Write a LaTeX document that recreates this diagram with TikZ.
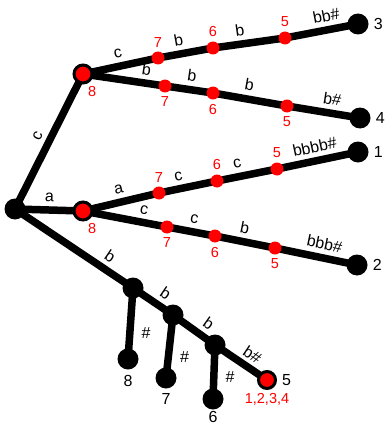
\documentclass[tikz,border=0pt]{standalone}
\usepackage{fontspec}
\setmainfont{Liberation Sans}
\usetikzlibrary{backgrounds}
\begin{document}
\begin{tikzpicture}[x=1pt,y=-1pt,
  edge/.style={line width=7.5pt,black},
  leaf/.style={circle,fill=black,minimum size=21pt,inner sep=0pt},
  rdot/.style={circle,fill=red,minimum size=13pt,inner sep=0pt},
  hub/.style={circle,fill=red,draw=black,line width=3pt,minimum size=18pt,inner sep=0pt},
  el/.style={font=\fontsize{16}{16}\selectfont,sloped,above,inner sep=4.5pt},
  hl/.style={font=\fontsize{16}{16}\selectfont,right,inner sep=0pt,xshift=8pt},
  rl/.style={font=\fontsize{14.5}{14.5}\selectfont,text=red,inner sep=1pt,label distance=3pt},
  bl/.style={font=\fontsize{16}{16}\selectfont,text=black,inner sep=2pt,label distance=3pt}]
\useasboundingbox (0,0) rectangle (387,428);
% hubs
\node[leaf] (r) at (15,209) {};
\node[hub,label={[rl,label distance=1pt]-70:8}] (A) at (83,74) {};
\node[hub,label={[rl,label distance=1pt]-70:8}] (B) at (83,211) {};
% branch to 3
\node[rdot,label={[rl]above:7}] (a7) at (158,58) {};
\node[rdot,label={[rl]above:6}] (a6) at (213,48) {};
\node[rdot,label={[rl]above:5}] (a5) at (285,38) {};
\node[leaf,label={[bl]right:3}] (L3) at (358,24) {};
% branch to 4
\node[rdot,label={[rl]below:7}] (b7) at (165,86) {};
\node[rdot,label={[rl]below:6}] (b6) at (213,93) {};
\node[rdot,label={[rl]below:5}] (b5) at (287,106) {};
\node[leaf,label={[bl]right:4}] (L4) at (360,118) {};
% branch to 1
\node[rdot,label={[rl]above:7}] (c7) at (159,193) {};
\node[rdot,label={[rl]above:6}] (c6) at (217,181) {};
\node[rdot,label={[rl]above:5}] (c5) at (277,169) {};
\node[leaf,label={[bl]right:1}] (L1) at (358,152) {};
% branch to 2
\node[rdot,label={[rl]below:7}] (e7) at (167,227) {};
\node[rdot,label={[rl]below:6}] (e6) at (215,236) {};
\node[rdot,label={[rl]below:5}] (e5) at (275,248) {};
\node[leaf,label={[bl]right:2}] (L2) at (357,265) {};
% lower chain
\node[leaf] (n1) at (133,288) {};
\node[leaf] (n2) at (173,315) {};
\node[leaf] (n3) at (215,345) {};
\node[hub,minimum size=17pt,label={[bl]right:5},label={[rl,label distance=2pt]below:1,2,3,4}] (E) at (267,380) {};
\node[leaf,label={[bl]below:8}] (L8) at (128,359) {};
\node[leaf,label={[bl]below:7}] (L7) at (166,378) {};
\node[leaf,label={[bl,label distance=0pt,inner sep=1pt]below:6}] (L6) at (213,399) {};
% connectors
\begin{scope}[on background layer]
\draw[edge] (r.center) -- node[el,pos=.5]{c} (A.center);
\draw[edge] (r.center) -- node[el,pos=.5]{a} (B.center);
\draw[edge] (r.center) -- node[el,pos=.74]{b} (n1.center);
\draw[edge] (A.center) -- node[el,pos=.5]{c} (a7.center)
  -- node[el,pos=.42]{b} (a6.center)
  -- node[el,pos=.4]{b} (a5.center)
  -- node[el,pos=.6]{bb\#} (L3.center);
\draw[edge] (A.center) -- node[el,pos=.75]{b} (b7.center)
  -- node[el,pos=.52]{b} (b6.center)
  -- node[el,pos=.46]{b} (b5.center)
  -- node[el,pos=.59]{b\#} (L4.center);
\draw[edge] (B.center) -- node[el,pos=.51]{a} (c7.center)
  -- node[el,pos=.38]{c} (c6.center)
  -- node[el,pos=.38]{c} (c5.center)
  -- node[el,pos=.5]{bbbb\#} (L1.center);
\draw[edge] (B.center) -- node[el,pos=.7]{c} (e7.center)
  -- node[el,pos=.52]{c} (e6.center)
  -- node[el,pos=.45]{b} (e5.center)
  -- node[el,pos=.57]{bbb\#} (L2.center);
\draw[edge] (n1.center) -- node[el,pos=.62]{b} (n2.center)
  -- node[el,pos=.66]{b} (n3.center)
  -- node[el,pos=.58,inner sep=3.5pt]{b\#} (E.center);
\draw[edge] (n1.center) -- node[hl,pos=.63]{\#} (L8.center);
\draw[edge] (n2.center) -- node[hl,pos=.67]{\#} (L7.center);
\draw[edge] (n3.center) -- node[hl,pos=.6]{\#} (L6.center);
\end{scope}
\end{tikzpicture}
\end{document}
